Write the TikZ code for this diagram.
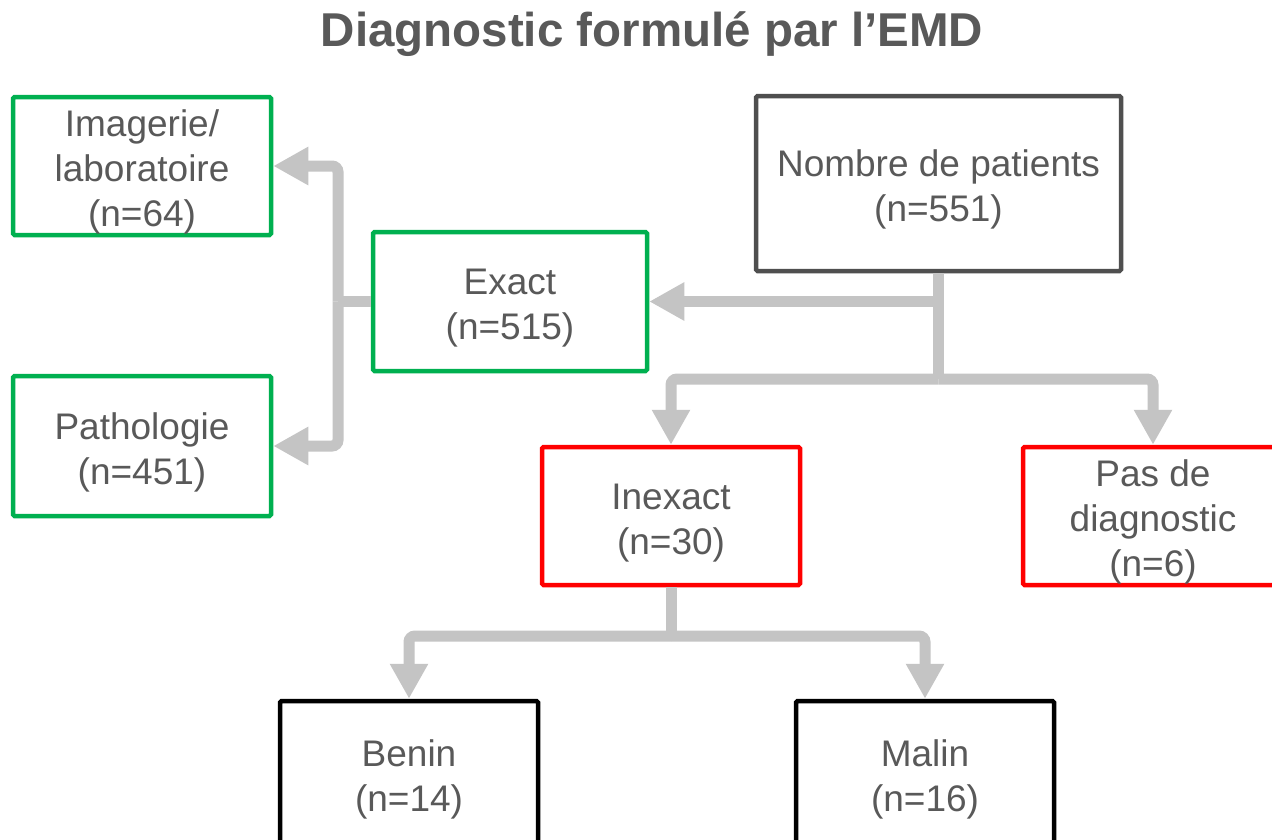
\documentclass[tikz,border=0pt]{standalone}
\usepackage{fontspec}
\setmainfont{Liberation Sans}
\usetikzlibrary{arrows.meta}
\definecolor{txt}{HTML}{595959}
\definecolor{grn}{HTML}{00B050}
\definecolor{rd}{HTML}{FF0000}
\definecolor{dk}{HTML}{4F4F4F}
\definecolor{blk}{HTML}{000000}
\definecolor{conn}{HTML}{C4C4C4}
\newcommand\tp{\rule{0pt}{39pt}}
\begin{document}
\begin{tikzpicture}[x=1pt,y=-1pt,
  box/.style={draw, line width=4.5pt, rounded corners=1.5pt, fill=white, align=center,
    text=txt, font=\fontsize{37}{45}\selectfont, inner sep=0pt},
  greenbox/.style={box, draw=grn},
  redbox/.style={box, draw=rd},
  darkbox/.style={box, draw=dk},
  blackbox/.style={box, draw=blk},
  link/.style={draw=conn, line width=11pt, rounded corners=6pt},
  arr/.style={link, -{Triangle[length=35pt,width=36pt]}}
]
\useasboundingbox (0,0) rectangle (1272,839);
\fill[white] (0,0) rectangle (1272,839);
\clip (0,0) rectangle (1272,839);

\node[anchor=base, text=txt, font=\fontsize{47.5}{56}\selectfont\bfseries] (title) at (652,46) {Diagnostic formulé par l’EMD};

\node[darkbox, minimum width=365pt, minimum height=175pt] (n) at (938.5,183.5) {\tp Nombre de patients\\(n=551)};
\node[greenbox, minimum width=274pt, minimum height=139pt] (ex) at (510,301.5) {\tp Exact\\(n=515)};
\node[greenbox, minimum width=258pt, minimum height=138pt] (im) at (142,166) {\tp Imagerie/\\laboratoire\\(n=64)};
\node[greenbox, minimum width=258pt, minimum height=140pt] (pa) at (142,446) {\tp Pathologie\\(n=451)};
\node[redbox, minimum width=258pt, minimum height=138pt] (inx) at (671,516) {\tp Inexact\\(n=30)};
\node[redbox, minimum width=260pt, minimum height=138pt] (pd) at (1153,516) {\tp Pas de\\diagnostic\\(n=6)};
\node[blackbox, minimum width=258pt, minimum height=144pt] (be) at (409,773) {\tp Benin\\(n=14)};
\node[blackbox, minimum width=258pt, minimum height=144pt] (ma) at (925,773) {\tp Malin\\(n=16)};

\coordinate (j1) at (938.5,379);
\coordinate (j2) at (338,301.5);
\coordinate (j3) at (671,636);

\draw[link] (n.south) -- (j1);
\draw[arr] (n.south |- ex.east) -- (ex.east);
\draw[arr] (j1) -| (inx.north);
\draw[arr] (j1) -| (pd.north);

\draw[link] (ex.west) -- (j2);
\draw[arr] (j2) |- (im.east);
\draw[arr] (j2) |- (pa.east);

\draw[link] (inx.south) -- (j3);
\draw[arr] (j3) -| (be.north);
\draw[arr] (j3) -| (ma.north);
\end{tikzpicture}
\end{document}
